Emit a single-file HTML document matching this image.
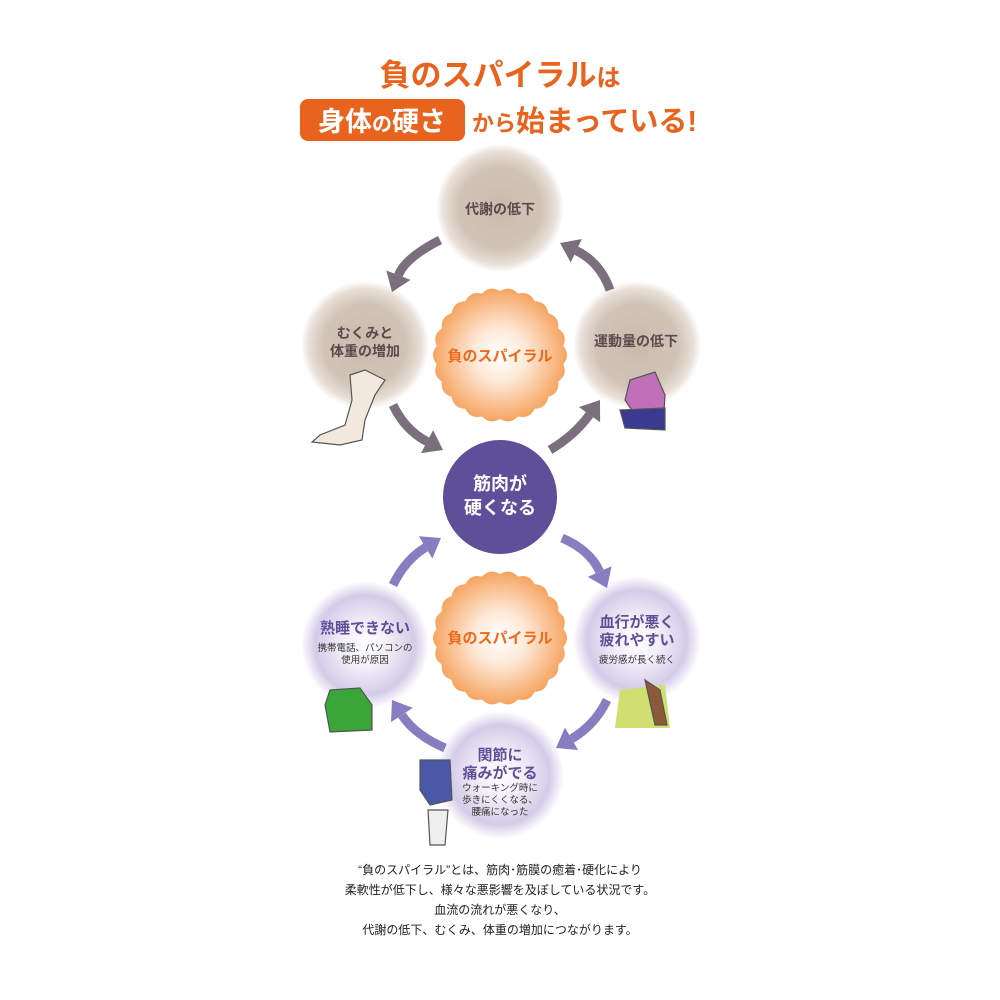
<!DOCTYPE html>
<html><head><meta charset="utf-8"><style>
html,body{margin:0;padding:0;background:#fff;}
svg{display:block;font-family:"Liberation Sans","Noto Sans CJK JP",sans-serif;}
</style></head><body>
<svg id="s" width="1000" height="1000" viewBox="0 0 1000 1000">
<defs>
<radialGradient id="br"><stop offset="0" stop-color="#c9baab"/><stop offset="0.65" stop-color="#d1c4b7"/><stop offset="0.88" stop-color="#e8dfd7"/><stop offset="1" stop-color="#fff"/></radialGradient>
<radialGradient id="pu"><stop offset="0" stop-color="#fff"/><stop offset="0.35" stop-color="#f2eff8"/><stop offset="0.78" stop-color="#d4cce8"/><stop offset="1" stop-color="#fff"/></radialGradient>
<radialGradient id="or"><stop offset="0" stop-color="#fff"/><stop offset="0.4" stop-color="#fde9d8"/><stop offset="1" stop-color="#f6a460"/></radialGradient>
</defs>
<g font-weight="bold" fill="#e8641e">
<text x="500" y="86" font-size="31" text-anchor="middle">負のスパイラル<tspan font-size="24">は</tspan></text>
<rect x="300" y="99" width="165" height="42" rx="8" fill="#e8641e"/>
<text x="382" y="131" font-size="27" fill="#fff" text-anchor="middle">身体<tspan font-size="20">の</tspan>硬さ</text>
<text x="472" y="131" font-size="22">から<tspan font-size="29">始まっている!</tspan></text>
</g>
<circle cx="500" cy="208" r="64" fill="url(#br)"/>
<circle cx="365" cy="345" r="64" fill="url(#br)"/>
<circle cx="637" cy="345" r="64" fill="url(#br)"/>
<circle cx="365" cy="645" r="64" fill="url(#pu)"/>
<circle cx="637" cy="640" r="64" fill="url(#pu)"/>
<circle cx="500" cy="775" r="64" fill="url(#pu)"/>
<path id="sb1" fill="url(#or)"/>
<path id="sb2" fill="url(#or)"/>
<circle cx="500" cy="497" r="57" fill="#5f4e98"/>
<g font-weight="bold" font-size="14" fill="#5a4a4e" text-anchor="middle">
<text x="500" y="214">代謝の低下</text>
<text x="365" y="338">むくみと</text><text x="365" y="356">体重の増加</text>
<text x="636" y="346">運動量の低下</text>
</g>
<g font-weight="bold" font-size="15" fill="#ee6a1a" text-anchor="middle">
<text x="500" y="361">負のスパイラル</text>
<text x="500" y="643">負のスパイラル</text>
</g>
<g font-weight="bold" font-size="18" fill="#fff" text-anchor="middle">
<text x="500" y="490">筋肉が</text><text x="500" y="514">硬くなる</text>
</g>
<g font-weight="bold" font-size="15" fill="#5f4e98" text-anchor="middle">
<text x="365" y="633">熟睡できない</text>
<text x="637" y="627">血行が悪く</text><text x="637" y="645">疲れやすい</text>
<text x="500" y="760">関節に</text><text x="500" y="778">痛みがでる</text>
</g>
<g font-size="9.5" fill="#333" text-anchor="middle">
<text x="365" y="651">携帯電話、パソコンの</text><text x="365" y="663">使用が原因</text>
<text x="637" y="663">疲労感が長く続く</text>
<text x="500" y="791">ウォーキング時に</text><text x="500" y="803">歩きにくくなる、</text><text x="500" y="815">腰痛になった</text>
</g>
<g id="arrows"></g>
<g fill="none" stroke="#555" stroke-width="1.2">
<path d="M350 375 L365 370 L385 380 L375 395 L365 420 L362 440 L340 445 L312 442 L320 435 L345 425 L352 400Z" fill="#f3e8dc"/>
<path d="M630 380 L655 372 L665 395 L664 412 L635 415 L625 400Z" fill="#c070b8"/>
<path d="M620 410 L665 408 L665 430 L625 428Z" fill="#3a3a90"/>
<path d="M330 690 L360 688 L372 705 L372 730 L330 732 L325 705Z" fill="#3aa63a"/>
<path d="M620 690 L665 685 L670 728 L615 728Z" fill="#cfe070" stroke="none"/>
<path d="M645 680 L660 690 L667 725 L655 725Z" fill="#8a5a3a"/>
<path d="M420 760 L450 760 L452 800 L430 805 L420 790Z" fill="#4a58a8"/>
<path d="M428 810 L448 810 L445 845 L430 845Z" fill="#eee"/>
</g>
<g font-size="12" fill="#222" text-anchor="middle">
<text x="500" y="874">“負のスパイラル”とは、筋肉･筋膜の癒着･硬化により</text>
<text x="500" y="894">柔軟性が低下し、様々な悪影響を及ぼしている状況です。</text>
<text x="500" y="914">血流の流れが悪くなり、</text>
<text x="500" y="934">代謝の低下、むくみ、体重の増加につながります。</text>
</g>
</svg>
<script>
function sb(cx,cy){var n=22,d='';for(var i=0;i<=720;i++){var a=i*Math.PI/360;var r=64+3*Math.abs(Math.cos(a*n/2));d+=(i?'L':'M')+(cx+r*Math.cos(a)).toFixed(1)+' '+(cy+r*Math.sin(a)).toFixed(1);}return d+'Z';}
document.getElementById('sb1').setAttribute('d',sb(500,355));
document.getElementById('sb2').setAttribute('d',sb(500,638));
var A=[[440,240,405,258,392,292,'#7b6f7d'],[610,290,600,262,560,243,'#7b6f7d'],[393,405,405,430,443,450,'#7b6f7d'],[550,450,575,435,600,400,'#7b6f7d'],
[562,538,590,550,607,588,'#877dc0'],[607,700,595,725,556,748,'#877dc0'],[445,748,415,735,392,700,'#877dc0'],[393,585,405,560,441,538,'#877dc0']];
var g=document.getElementById('arrows'),h='';
A.forEach(function(a){var x0=a[0],y0=a[1],cx=a[2],cy=a[3],x1=a[4],y1=a[5],c=a[6];
var dx=x1-cx,dy=y1-cy,L=Math.hypot(dx,dy);dx/=L;dy/=L;var bx=x1-dx*18,by=y1-dy*18,px=-dy,py=dx;
h+='<path d="M'+x0+' '+y0+' Q'+cx+' '+cy+' '+bx+' '+by+'" stroke="'+c+'" stroke-width="9" fill="none"/>';
h+='<polygon fill="'+c+'" points="'+x1+','+y1+' '+(bx+px*13)+','+(by+py*13)+' '+(bx-px*13)+','+(by-py*13)+'"/>';});
g.innerHTML=h;
</script>
</body></html>
